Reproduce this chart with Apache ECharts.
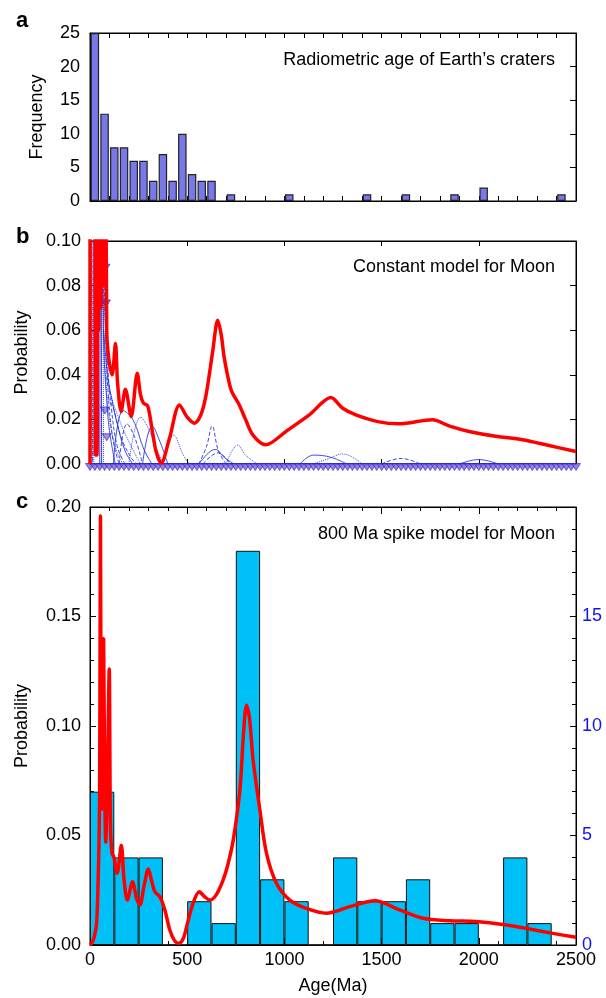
<!DOCTYPE html>
<html lang="en">
<head>
    <meta charset="UTF-8">
    <title>Crater ages</title>
    <script src="https://cdn.jsdelivr.net/npm/echarts@6/dist/echarts.min.js"></script>
</head>
<style>
html,body{margin:0;padding:0;background-color:#fff}
#chartBox{width:606px;height:998px}
</style>
<body>
    <div id="chartBox"></div>
</body>
<script>
// panel a: Earth craters, 50 Ma bins
const craterBinMid = [25,75,125,175,225,275,325,375,425,475,525,575,625,725,1025,1425,1625,1875,2025,2425];
const craterCount  = [25,13,8,8,6,6,3,7,3,10,4,3,3,1,1,1,1,1,2,1];

// panel b: constant model (age Ma, probability)
const constCurve = [[0,0],[1,0.2],[24,0.2],[27,0.004],[36,0.004],[40,0.2],[45,0.06],[50,0.2],[57,0.07],[64,0.2],[71,0.08],[78,0.2],[86,0.06],[97,0.047],[114,0.040],[131,0.054],[142,0.036],[160,0.0235],[182,0.0335],[212,0.0213],[243,0.0407],[260,0.031],[275,0.0273],[297,0.026],[320,0.015],[340,0.0056],[366,0.0004],[409,0.0116],[460,0.0265],[500,0.021],[537,0.0183],[570,0.022],[597,0.031],[631,0.0504],[657,0.0645],[675,0.058],[691,0.0474],[726,0.0332],[768,0.0265],[800,0.02],[837,0.0131],[905,0.0086],[1008,0.0146],[1128,0.022],[1239,0.0298],[1300,0.025],[1368,0.022],[1480,0.019],[1590,0.018],[1762,0.0198],[1850,0.017],[1950,0.0146],[2087,0.0124],[2224,0.0109],[2361,0.0083],[2500,0.0056]];

// panel b: individual crater curves (dashed blue)
const indivCurves = [
    [[6,0],[9,0.12],[12,0]],
    [[14,0],[17,0.12],[20,0]],
    [[50,0],[55,0.12],[60,0]],
    [[58,0],[64,0.12],[70,0]],
    [[55,0.12],[70,0.09],[80,0.06],[95,0.03],[120,0.01],[150,0]],
    [[60,0.12],[66,0.08],[72,0.05],[85,0.03],[100,0.015],[130,0]],
    [[60,0.1],[75,0.07],[90,0.045],[110,0.025],[140,0.008],[180,0]],
    [[62,0.1],[70,0.065],[80,0.04],[100,0.02],[140,0.005],[170,0]],
    [[70,0.06],[90,0.04],[110,0.03],[140,0.018],[180,0.006],[220,0]],
    [[80,0.04],[110,0.03],[150,0.02],[200,0.01],[260,0]],
    [[90,0.03],[120,0.025],[160,0.012],[210,0.003],[240,0]],
    [[120,0],[170,0.024],[220,0.02],[280,0.006],[320,0]],
    [[150,0],[190,0.018],[230,0.012],[270,0]],
    [[200,0],[260,0.021],[300,0.016],[350,0.005],[380,0]],
    [[270,0],[320,0.017],[360,0.01],[400,0]],
    [[380,0],[430,0.013],[480,0.004],[510,0]],
    [[560,0],[600,0.008],[628,0.017],[660,0.006],[700,0]],
    [[560,0],[610,0.005],[645,0.0065],[690,0.003],[740,0]],
    [[580,0],[630,0.004],[660,0.005],[720,0]],
    [[700,0],[760,0.0085],[800,0.004],[860,0]],
    [[1080,0],[1150,0.004],[1240,0.003],[1320,0]],
    [[1150,0],[1230,0.0025],[1300,0.0045],[1400,0]],
    [[1500,0],[1600,0.0025],[1700,0]],
    [[1900,0],[2000,0.002],[2100,0]]
];
const peakMarks = [[80,0.088],[82,0.072],[76,0.024],[86,0.012]];
const baseMarkAges = [0,25,50,75,100,125,150,175,200,225,250,275,300,325,350,375,400,425,450,475,500,525,550,575,600,625,650,675,700,725,750,775,800,825,850,875,900,925,950,975,1000,1025,1050,1075,1100,1125,1150,1175,1200,1225,1250,1275,1300,1325,1350,1375,1400,1425,1450,1475,1500,1525,1550,1575,1600,1625,1650,1675,1700,1725,1750,1775,1800,1825,1850,1875,1900,1925,1950,1975,2000,2025,2050,2075,2100,2125,2150,2175,2200,2225,2250,2275,2300,2325,2350,2375,2400,2425,2450,2475,2500];

// panel c: 800 Ma spike model, 125 Ma bins
const spikeBinMid = [62.5,187.5,312.5,437.5,562.5,687.5,812.5,937.5,1062.5,1187.5,1312.5,1437.5,1562.5,1687.5,1812.5,1937.5,2062.5,2187.5,2312.5];
const spikeCount  = [7,4,4,0,2,1,18,3,2,0,4,2,2,3,1,1,0,4,1];
const spikeCurve = [[0,0],[10,0.001],[20,0.003],[34,0.01],[42,0.03],[47,0.05],[50,0.08],[54,0.196],[57,0.09],[60,0.062],[65,0.09],[70,0.14],[75,0.08],[81,0.047],[90,0.08],[99,0.126],[105,0.055],[113,0.042],[123,0.04],[140,0.0327],[161,0.0456],[175,0.03],[192,0.0205],[219,0.0289],[240,0.021],[257,0.0183],[278,0.027],[300,0.0347],[318,0.029],[334,0.0243],[360,0.022],[385,0.016],[410,0.007],[435,0.002],[457,0.0008],[480,0.003],[497,0.0084],[530,0.019],[562,0.0243],[590,0.022],[617,0.0205],[650,0.023],[685,0.0297],[710,0.037],[737,0.048],[771,0.0707],[790,0.097],[805,0.1095],[820,0.104],[839,0.0844],[874,0.0616],[908,0.0418],[959,0.0282],[1028,0.0205],[1113,0.0167],[1216,0.0145],[1336,0.0175],[1465,0.0202],[1593,0.016],[1713,0.0122],[1850,0.0111],[1987,0.0107],[2124,0.0094],[2261,0.0073],[2381,0.0053],[2500,0.0035]];

const FONT = '"Liberation Sans", Arial, Helvetica, sans-serif';

// 坐标轴生成
function xAx(gi, pos, interval, labels, minor, lineColor){
    return {
        type: 'value', gridIndex: gi, position: pos, min: 0, max: 2500, interval: interval,
        axisLine: {show: true, onZero: false, lineStyle: {color: lineColor || '#000', width: lineColor ? 2 : 1}},
        axisTick: {show: true, inside: true, length: minor ? 7 : 5, lineStyle: {color: '#000'}},
        minorTick: {show: !!minor, splitNumber: 5, length: 4, lineStyle: {color: '#000'}},
        axisLabel: {show: labels, color: '#000', fontSize: 18, fontFamily: FONT, margin: 6, formatter: v => String(v)},
        splitLine: {show: false}
    };
}
function yAx(gi, pos, max, interval, opt){
    opt = opt || {};
    return {
        type: 'value', gridIndex: gi, position: pos, min: 0, max: max, interval: interval,
        axisLine: {show: true, onZero: false, lineStyle: {color: '#000', width: 1}},
        axisTick: {show: true, inside: true, length: 6, lineStyle: {color: '#000'}},
        minorTick: {show: !!opt.minor, splitNumber: 5, length: 4, lineStyle: {color: '#000'}},
        axisLabel: {show: !!opt.labels, color: opt.color || '#000', fontSize: 18, fontFamily: FONT,
                    margin: opt.margin || 10, formatter: opt.fmt || (v => String(v)), showMaxLabel: opt.showMax !== false},
        splitLine: {show: false},
        name: opt.name, nameLocation: 'middle', nameGap: opt.nameGap,
        nameTextStyle: {color: '#000', fontSize: 18, fontFamily: FONT}
    };
}

const titles = [
    {text: 'a', left: 11, top: 5},
    {text: 'b', left: 11, top: 221},
    {text: 'c', left: 11, top: 486}
].map(t => Object.assign(t, {textStyle: {fontSize: 22, fontWeight: 'bold', color: '#000', fontFamily: FONT}}));
[
    {text: 'Radiometric age of Earth\u2019s craters', right: 46, top: 46},
    {text: 'Constant model for Moon', right: 46, top: 253},
    {text: '800 Ma spike model for Moon', right: 46, top: 520}
].forEach(t => titles.push(Object.assign(t, {textStyle: {fontSize: 18, fontWeight: 'normal', color: '#000', fontFamily: FONT}})));

const series = [];
series.push({
    type: 'bar', xAxisIndex: 0, yAxisIndex: 0, barWidth: 8.5,
    itemStyle: {color: '#7878E8', borderColor: '#222', borderWidth: 1.2},
    data: craterBinMid.map((x, i) => [x, craterCount[i]])
});
indivCurves.forEach((c, i) => {
    series.push({
        type: 'line', xAxisIndex: 2, yAxisIndex: 2, smooth: 0.4, showSymbol: false,
        lineStyle: {color: '#1F2EDB', width: 1, type: i % 3 === 2 ? 'solid' : (i % 2 ? 'dotted' : 'dashed'), opacity: 0.85},
        data: c
    });
});
series.push({
    type: 'line', xAxisIndex: 2, yAxisIndex: 2, smooth: 0.3, showSymbol: false,
    lineStyle: {color: '#FF0000', width: 3.5},
    data: constCurve
});
series.push({
    type: 'scatter', xAxisIndex: 2, yAxisIndex: 2, symbol: 'triangle', symbolRotate: 180,
    symbolSize: [9, 7], clip: false,
    itemStyle: {color: '#9070E0', borderColor: '#2020C8', borderWidth: 0.8},
    data: peakMarks
});
series.push({
    type: 'scatter', xAxisIndex: 2, yAxisIndex: 2, symbol: 'triangle', symbolRotate: 180,
    symbolSize: [9, 7], symbolOffset: [0, 3], clip: false,
    itemStyle: {color: '#7A5FDC', borderColor: '#2222C4', borderWidth: 0.8},
    data: baseMarkAges.map(x => [x, 0])
});
series.push({
    type: 'bar', xAxisIndex: 4, yAxisIndex: 5, barWidth: 24.3,
    itemStyle: {color: '#00C1F7', borderColor: '#111', borderWidth: 1},
    data: spikeBinMid.map((x, i) => [x, spikeCount[i]])
});
series.push({
    type: 'line', xAxisIndex: 4, yAxisIndex: 4, smooth: 0.3, showSymbol: false,
    lineStyle: {color: '#FF0000', width: 3.5},
    data: spikeCurve
});

const option = {
    animation: false,
    backgroundColor: '#fff',
    textStyle: {fontFamily: FONT},
    title: titles,
    grid: [
        {left: 90, top: 33, width: 486, height: 168, show: true, borderColor: '#000', borderWidth: 1},
        {left: 90, top: 241, width: 486, height: 223, show: true, borderColor: '#000', borderWidth: 1},
        {left: 90, top: 507, width: 486, height: 438, show: true, borderColor: '#000', borderWidth: 1}
    ],
    xAxis: [
        xAx(0, 'bottom', 100, false, false),
        xAx(0, 'top', 100, false, false),
        xAx(1, 'bottom', 500, false, false, '#2424C8'),
        xAx(1, 'top', 500, false, false),
        Object.assign(xAx(2, 'bottom', 500, true, true), {name: 'Age(Ma)', nameLocation: 'middle', nameGap: 32,
            nameTextStyle: {color: '#000', fontSize: 18, fontFamily: FONT}}),
        xAx(2, 'top', 500, false, true)
    ],
    yAxis: [
        yAx(0, 'left', 25, 5, {labels: true, name: 'Frequency', nameGap: 44}),
        yAx(0, 'right', 25, 5, {}),
        yAx(1, 'left', 0.1, 0.02, {labels: true, name: 'Probability', nameGap: 59, margin: 9, fmt: v => v.toFixed(2)}),
        yAx(1, 'right', 0.1, 0.02, {}),
        yAx(2, 'left', 0.2, 0.05, {labels: true, minor: true, name: 'Probability', nameGap: 59, margin: 9, fmt: v => v.toFixed(2)}),
        yAx(2, 'right', 20, 5, {labels: true, minor: true, color: '#1414E6', margin: 6, showMax: false})
    ],
    series: series
};

let chartObj = echarts.init(document.getElementById('chartBox'));
chartObj.setOption(option);
</script>
</html>
